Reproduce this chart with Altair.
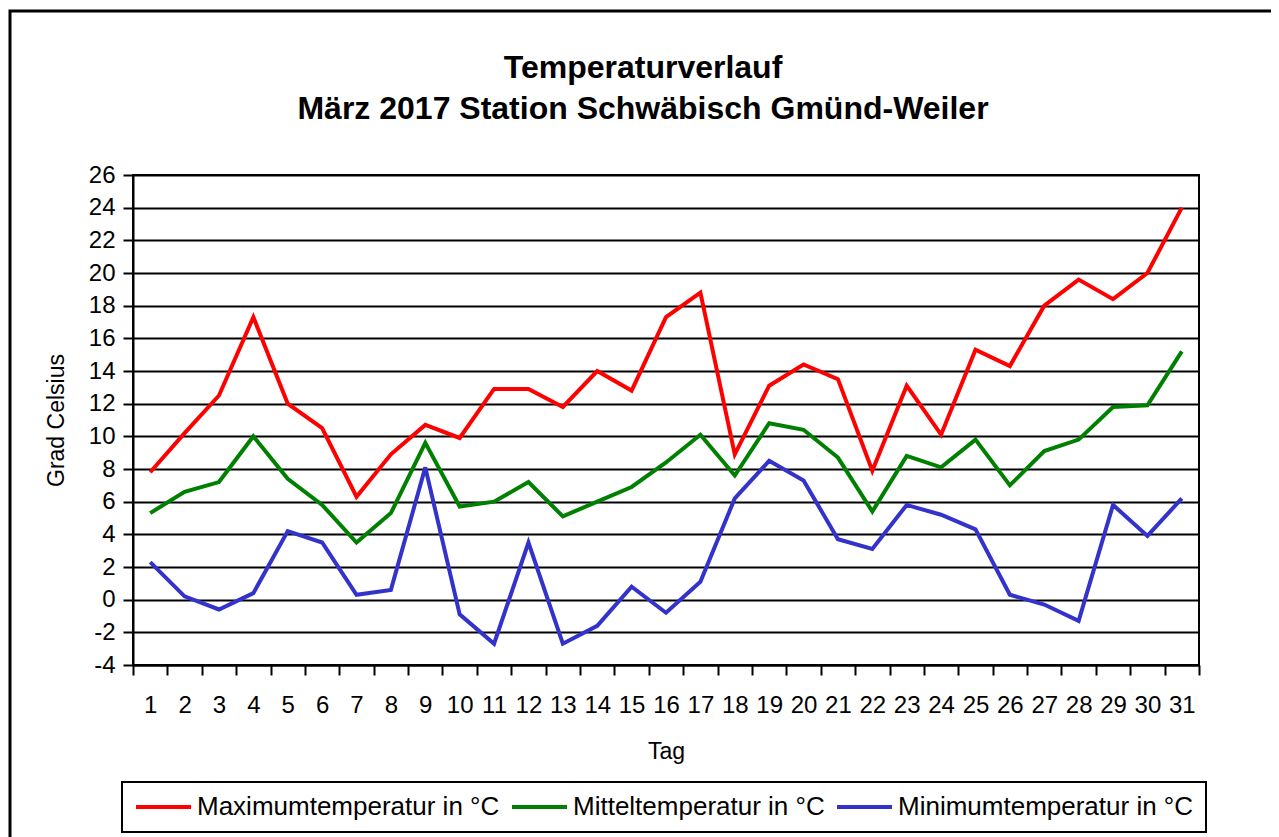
import altair as alt
import pandas as pd

days = list(range(1, 32))
max_temp = [7.8, 10.2, 12.5, 17.3, 12.0, 10.5, 6.3, 8.9, 10.7, 9.9, 12.9, 12.9, 11.8, 14.0, 12.8,
            17.3, 18.8, 8.9, 13.1, 14.4, 13.5, 7.9, 13.1, 10.1, 15.3, 14.3, 18.0, 19.6, 18.4, 20.0, 24.0]
mean_temp = [5.3, 6.6, 7.2, 10.0, 7.4, 5.8, 3.5, 5.3, 9.6, 5.7, 6.0, 7.2, 5.1, 6.0, 6.9,
             8.4, 10.1, 7.6, 10.8, 10.4, 8.7, 5.4, 8.8, 8.1, 9.8, 7.0, 9.1, 9.8, 11.8, 11.9, 15.2]
min_temp = [2.3, 0.2, -0.6, 0.4, 4.2, 3.5, 0.3, 0.6, 8.1, -0.9, -2.7, 3.5, -2.7, -1.6, 0.8,
            -0.8, 1.1, 6.2, 8.5, 7.3, 3.7, 3.1, 5.8, 5.2, 4.3, 0.3, -0.3, -1.3, 5.8, 3.9, 6.2]

series_names = ["Maximumtemperatur in °C", "Mitteltemperatur in °C", "Minimumtemperatur in °C"]
series_colors = ["#FF0000", "#008000", "#3333CC"]
y_ticks = list(range(-4, 27, 2))

rows = []
for name, vals in zip(series_names, [max_temp, mean_temp, min_temp]):
    for d, v in zip(days, vals):
        rows.append({"Tag": d, "Wert": v, "Reihe": name})
df = pd.DataFrame(rows)

FONT = "Liberation Sans"

frame = alt.Chart(pd.DataFrame({"k": [0]})).mark_rect(
    filled=False, stroke="black", strokeWidth=3
).encode(
    x=alt.value(-123), x2=alt.value(1140), y=alt.value(-164), y2=alt.value(720)
)

lines = alt.Chart(df).mark_line(strokeWidth=4, clip=False).encode(
    x=alt.X("Tag:O", bandPosition=0.5,
            scale=alt.Scale(type="band", paddingInner=0, paddingOuter=0),
            axis=alt.Axis(title="Tag", labelAngle=0, tickBand="extent", tickSize=10,
                          labelPadding=18, titlePadding=23, grid=False)),
    y=alt.Y("Wert:Q", scale=alt.Scale(domain=[-4, 26], nice=False, zero=False),
            axis=alt.Axis(title="Grad Celsius", values=y_ticks, tickSize=10, labelPadding=8,
                          labelExpr="'' + datum.value",
                          titlePadding=20, grid=True, gridColor="black", gridWidth=2,
                          gridOpacity=1)),
    color=alt.Color("Reihe:N", sort=series_names,
                    scale=alt.Scale(domain=series_names, range=series_colors),
                    legend=alt.Legend(title=None, orient="none", direction="horizontal",
                                      legendX=-11, legendY=607, symbolType="M-1,0H4",
                                      symbolSize=484, symbolStrokeWidth=4,
                                      labelFontSize=26, labelFont=FONT, labelColor="black",
                                      labelLimit=0, labelOffset=37, columnPadding=4,
                                      padding=12, strokeColor="black")),
    order="Tag:O",
)

chart = alt.layer(frame, lines).properties(
    width=1066, height=490,
    padding={"left": 125, "top": 167, "right": 72, "bottom": 190},
    autosize=alt.AutoSizeParams(type="none"),
    title=alt.Title(["Temperaturverlauf", "März 2017 Station Schwäbisch Gmünd-Weiler"],
                    font=FONT, fontSize=32, fontWeight="bold", color="black",
                    lineHeight=41, anchor="middle", dx=-23, offset=0, dy=116),
).configure_view(stroke="black", strokeWidth=2).configure_axis(
    labelFont=FONT, titleFont=FONT, labelFontSize=24, titleFontSize=23,
    labelColor="black", titleColor="black", titleFontWeight="normal",
    domainColor="black", domainWidth=2, tickColor="black", tickWidth=2,
).configure_legend(strokeWidth=2)

chart.save("out.html", embed_options={"renderer": "svg", "actions": False})
